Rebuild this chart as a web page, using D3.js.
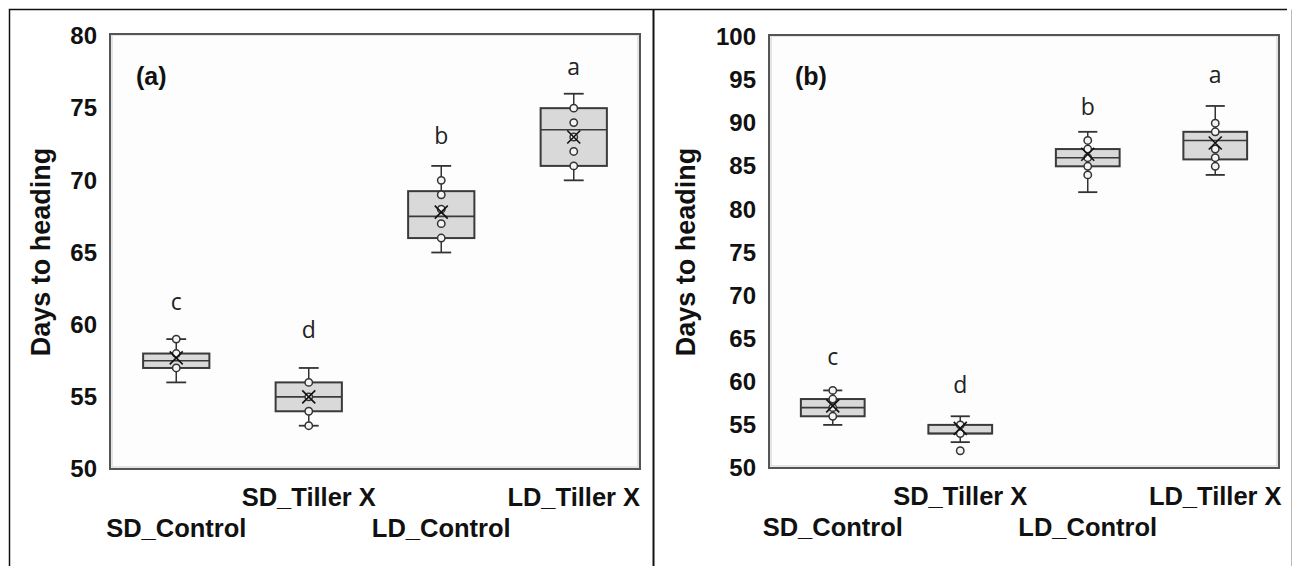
<!DOCTYPE html>
<html>
<head>
<meta charset="utf-8">
<title>Days to heading</title>
<style>
  body { margin: 0; background: #fff; }
  svg { display: block; }
</style>
</head>
<body>
<svg id="chart" width="1293" height="566"></svg>
<script src="https://cdn.jsdelivr.net/npm/d3@7"></script>
<script>
// ---- data ----
const categories = ["SD_Control", "SD_Tiller X", "LD_Control", "LD_Tiller X"];

// panel (a)
const ticksA   = [50, 55, 60, 65, 70, 75, 80];
const minA     = [56, 53, 65, 70];
const q1A      = [57, 54, 66, 71];
const medianA  = [57.5, 55, 67.5, 73.5];
const q3A      = [58, 56, 69.25, 75];
const maxA     = [59, 57, 71, 76];
const meanA    = [57.7, 55, 67.8, 73];
const pointsA  = [[59, 58, 57], [56, 55, 54, 53], [70, 69, 68, 67, 66], [75, 74, 73, 72, 71]];
const outliersA = [[], [], [], []];
const lettersA = ["c", "d", "b", "a"];
const letterAtA = [61, 59.1, 72.5, 77.3];

// panel (b)
const ticksB   = [50, 55, 60, 65, 70, 75, 80, 85, 90, 95, 100];
const minB     = [55, 53, 82, 84];
const q1B      = [56, 54, 85, 85.8];
const medianB  = [57, 54, 86, 88];
const q3B      = [58, 55, 87, 89];
const maxB     = [59, 56, 89, 92];
const meanB    = [57.2, 54.6, 86.4, 87.7];
const pointsB  = [[59, 58, 57, 56], [55, 54], [88, 87, 86, 85, 84], [90, 89, 87, 86, 85]];
const outliersB = [[], [52], [], []];
const lettersB = ["c", "d", "b", "a"];
const letterAtB = [62, 58.7, 91, 94.7];

const svg = d3.select("#chart");
const FONT = "Liberation Sans, Arial, sans-serif";

// outer frame of the figure
svg.append("path")
    .attr("d", "M9.5,566V9.5H1287")
    .attr("fill", "none").attr("stroke", "#111").attr("stroke-width", 1.5);
svg.append("line")
    .attr("x1", 653.5).attr("x2", 653.5).attr("y1", 9.5).attr("y2", 566)
    .attr("stroke", "#111").attr("stroke-width", 2);
svg.append("line")
    .attr("x1", 1291.5).attr("x2", 1291.5).attr("y1", 9.5).attr("y2", 566)
    .attr("stroke", "#bbb").attr("stroke-width", 1);

function drawPanel(p) {
    const g = svg.append("g");
    const x = d3.scaleBand().domain(categories).range([p.left, p.right]).padding(0);
    const y = d3.scaleLinear().domain([p.ticks[0], p.ticks[p.ticks.length - 1]]).range([p.bottom, p.top]);
    const bw = x.bandwidth() * 0.5;
    const cap = x.bandwidth() * 0.15;
    const cx = d => x(d) + x.bandwidth() / 2;

    // plot frame (with light inner bevel)
    g.append("rect")
        .attr("x", p.left + 2).attr("y", p.top - 1)
        .attr("width", p.right - p.left - 4).attr("height", p.bottom - p.top - 1)
        .attr("fill", "#fdfdfd").attr("stroke", "#dcdcdc").attr("stroke-width", 1.5);
    g.append("rect")
        .attr("x", p.left).attr("y", p.top - 2)
        .attr("width", p.right - p.left).attr("height", p.bottom - p.top + 2)
        .attr("fill", "none").attr("stroke", "#555").attr("stroke-width", 2);

    // y axis
    const gy = g.append("g")
        .attr("transform", `translate(${p.left},0)`)
        .call(d3.axisLeft(y).tickValues(p.ticks).tickSize(0).tickPadding(13));
    gy.select(".domain").remove();
    gy.selectAll("text")
        .attr("font-family", FONT)
        .attr("font-weight", "bold").attr("font-size", 24).attr("fill", "#111");

    // y title
    g.append("text")
        .attr("transform", `translate(${p.titleX},252) rotate(-90)`)
        .attr("text-anchor", "middle").attr("dy", "0.35em")
        .attr("font-family", FONT)
        .attr("font-weight", "bold").attr("font-size", 27).attr("fill", "#111")
        .text("Days to heading");

    // x axis, staggered labels
    const gx = g.append("g")
        .attr("transform", `translate(0,${p.bottom})`)
        .call(d3.axisBottom(x).tickSize(0).tickPadding(0));
    gx.select(".domain").remove();
    gx.selectAll("text")
        .attr("font-family", FONT)
        .attr("font-weight", "bold").attr("font-size", 25.5).attr("fill", "#111")
        .attr("dy", null)
        .attr("y", (d, i) => i % 2 === 0 ? 68 : 37);

    // panel tag
    g.append("text")
        .attr("x", p.left + 26).attr("y", 85)
        .attr("font-family", FONT)
        .attr("font-weight", "bold").attr("font-size", 25).attr("fill", "#111")
        .text(p.tag);

    const boxes = g.selectAll(".box").data(categories).join("g").attr("class", "box");

    // whiskers
    boxes.append("line")
        .attr("x1", cx).attr("x2", cx)
        .attr("y1", (d, i) => y(p.max[i])).attr("y2", (d, i) => y(p.q3[i]))
        .attr("stroke", "#333").attr("stroke-width", 1.5);
    boxes.append("line")
        .attr("x1", cx).attr("x2", cx)
        .attr("y1", (d, i) => y(p.q1[i])).attr("y2", (d, i) => y(p.min[i]))
        .attr("stroke", "#333").attr("stroke-width", 1.5);
    boxes.append("line")
        .attr("x1", d => cx(d) - cap / 2).attr("x2", d => cx(d) + cap / 2)
        .attr("y1", (d, i) => y(p.max[i])).attr("y2", (d, i) => y(p.max[i]))
        .attr("stroke", "#333").attr("stroke-width", 1.8);
    boxes.append("line")
        .attr("x1", d => cx(d) - cap / 2).attr("x2", d => cx(d) + cap / 2)
        .attr("y1", (d, i) => y(p.min[i])).attr("y2", (d, i) => y(p.min[i]))
        .attr("stroke", "#333").attr("stroke-width", 1.8);

    // box
    boxes.append("rect")
        .attr("x", d => cx(d) - bw / 2).attr("width", bw)
        .attr("y", (d, i) => y(p.q3[i]))
        .attr("height", (d, i) => y(p.q1[i]) - y(p.q3[i]))
        .attr("fill", "#d9d9d9").attr("stroke", "#3a3a3a").attr("stroke-width", 2);
    boxes.append("line")
        .attr("x1", d => cx(d) - bw / 2).attr("x2", d => cx(d) + bw / 2)
        .attr("y1", (d, i) => y(p.median[i])).attr("y2", (d, i) => y(p.median[i]))
        .attr("stroke", "#3a3a3a").attr("stroke-width", 1.6);

    // inner points and outliers
    boxes.each(function (d, i) {
        const pts = p.points[i].concat(p.outliers[i]);
        d3.select(this).selectAll("circle").data(pts).join("circle")
            .attr("cx", cx(d)).attr("cy", v => y(v)).attr("r", 3.7)
            .attr("fill", "#f4f4f4").attr("stroke", "#333").attr("stroke-width", 1.5);
    });

    // mean marker
    const m = 6.5;
    boxes.append("path")
        .attr("d", (d, i) => {
            const px = cx(d), py = y(p.mean[i]);
            return `M${px - m},${py - m}L${px + m},${py + m}M${px - m},${py + m}L${px + m},${py - m}`;
        })
        .attr("stroke", "#111").attr("stroke-width", 1.6).attr("fill", "none");

    // significance letters
    boxes.append("text")
        .attr("x", cx).attr("y", (d, i) => y(p.letterAt[i]))
        .attr("text-anchor", "middle")
        .attr("font-family", "Open Sans, Noto Sans, sans-serif")
        .attr("font-size", 23).attr("fill", "#222")
        .text((d, i) => p.letters[i]);
}

drawPanel({
    left: 110, right: 640, top: 36, bottom: 469, titleX: 41, tag: "(a)",
    ticks: ticksA, min: minA, q1: q1A, median: medianA, q3: q3A, max: maxA,
    mean: meanA, points: pointsA, outliers: outliersA, letters: lettersA, letterAt: letterAtA
});
drawPanel({
    left: 769, right: 1279, top: 37, bottom: 468, titleX: 686, tag: "(b)",
    ticks: ticksB, min: minB, q1: q1B, median: medianB, q3: q3B, max: maxB,
    mean: meanB, points: pointsB, outliers: outliersB, letters: lettersB, letterAt: letterAtB
});
</script>
</body>
</html>
